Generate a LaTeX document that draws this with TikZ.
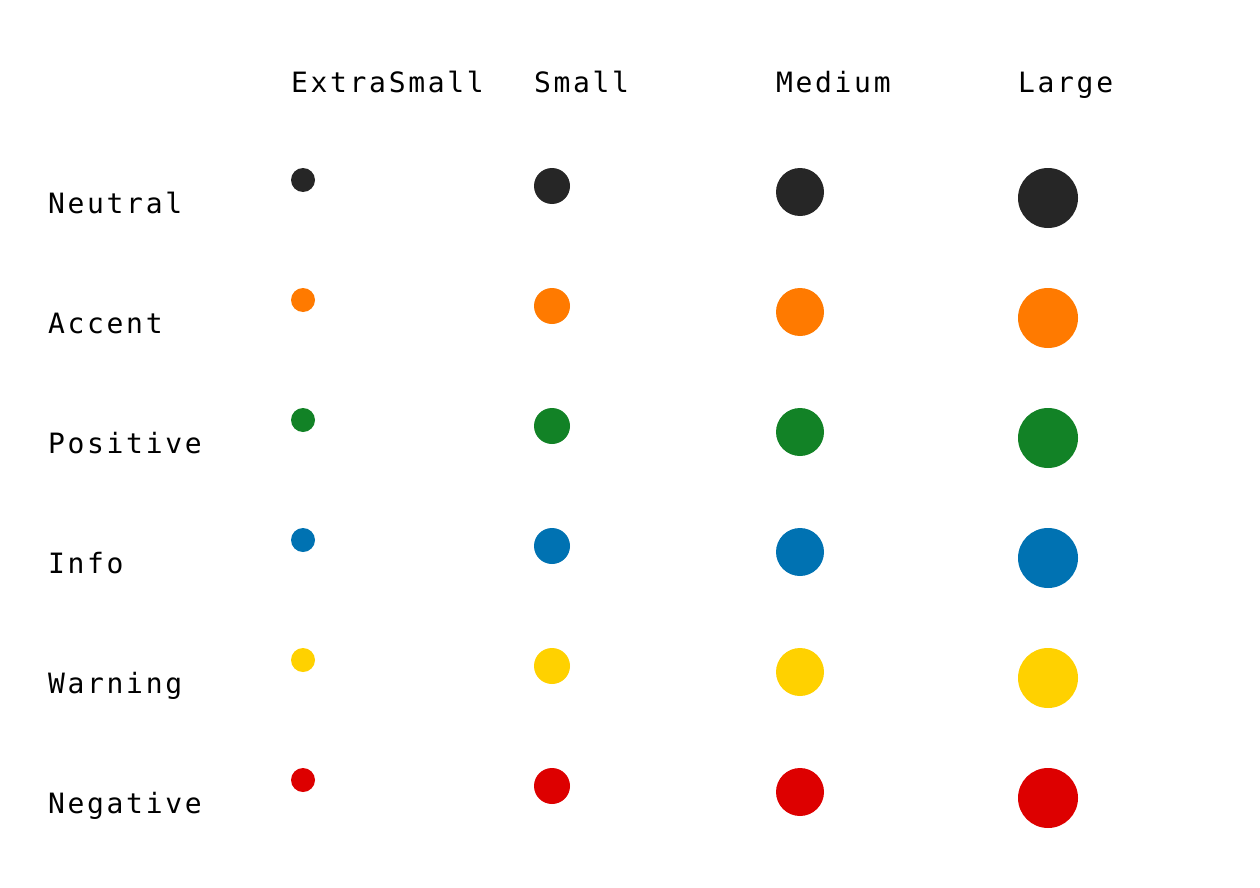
\documentclass[tikz,border=0pt]{standalone}
\usepackage{fontspec}
\newfontfamily\lblfont[LetterSpace=9.5]{DejaVu Sans Mono}
\definecolor{cneutral}{RGB}{38,38,38}
\definecolor{caccent}{RGB}{255,122,0}
\definecolor{cpositive}{RGB}{18,130,38}
\definecolor{cinfo}{RGB}{0,114,178}
\definecolor{cwarning}{RGB}{255,209,0}
\definecolor{cnegative}{RGB}{221,0,0}
\begin{document}
\begin{tikzpicture}[x=1pt,y=-1pt,
  lbl/.style={anchor=base west,inner sep=0pt,font=\lblfont\fontsize{28}{31}\selectfont,text=black},
  dot/.style={circle,inner sep=0pt,draw=none,fill=#1}]
\useasboundingbox (0,0) rectangle (1260,888);
\node[lbl] (hXS) at (291,93) {ExtraSmall};
\node[lbl] (hS) at (534,93) {Small};
\node[lbl] (hM) at (776,93) {Medium};
\node[lbl] (hL) at (1018,93) {Large};
\foreach \name/\col [count=\i from 0] in {Neutral/cneutral,Accent/caccent,Positive/cpositive,Info/cinfo,Warning/cwarning,Negative/cnegative}{
  \pgfmathsetmacro{\top}{168+120*\i}
  \node[lbl] (r\i) at (48,\top+45.5) {\name};
  \node[dot=\col,minimum size=24pt] (xs\i) at (291+12,\top+12) {};
  \node[dot=\col,minimum size=36pt] (s\i) at (534+18,\top+18) {};
  \node[dot=\col,minimum size=48pt] (m\i) at (776+24,\top+24) {};
  \node[dot=\col,minimum size=60pt] (l\i) at (1018+30,\top+30) {};
}
\end{tikzpicture}
\end{document}
